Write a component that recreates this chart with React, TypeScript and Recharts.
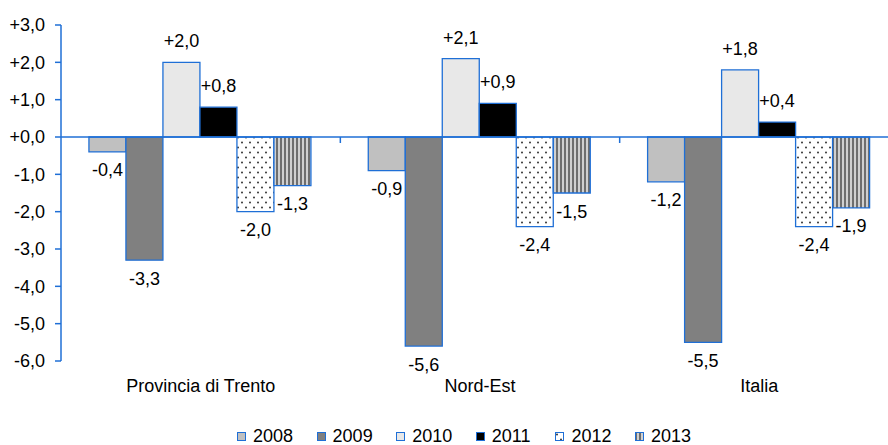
import { BarChart, Bar, XAxis, YAxis, ReferenceLine, ReferenceArea, LabelList, Legend } from "recharts";

const categories = ["Provincia di Trento", "Nord-Est", "Italia"];
const years = ["2008", "2009", "2010", "2011", "2012", "2013"];
const v2008 = [-0.4, -0.9, -1.2];
const v2009 = [-3.3, -5.6, -5.5];
const v2010 = [2.0, 2.1, 1.8];
const v2011 = [0.8, 0.9, 0.4];
const v2012 = [-2.0, -2.4, -2.4];
const v2013 = [-1.3, -1.5, -1.9];
const yTicks = [-6, -5, -4, -3, -2, -1, 0, 1, 2, 3];

const series = [v2008, v2009, v2010, v2011, v2012, v2013];
const fills = ["#c0c0c0", "#808080", "#e8e8e8", "#000000", "url(#dots2012)", "url(#stripes2013)"];

const BLUE = "#1f6fd6";
const FONT = "'Liberation Sans', Arial, sans-serif";
const FS = 18;

const data = categories.map((c, i) => {
  const row: Record<string, string | number> = { cat: c };
  years.forEach((y, j) => (row[y] = series[j][i]));
  return row;
});

const fmt = (v: number) => (v >= 0 ? "+" : "") + v.toFixed(1).replace(".", ",");

const BarLabel = (props: any) => {
  const { x, y, width, height, value } = props;
  const top = Math.min(y, y + height);
  const bottom = Math.max(y, y + height);
  const ty = value >= 0 ? top - 15 : bottom + 24.5;
  return (
    <text x={x + width / 2} y={ty} textAnchor="middle" fill="#000" fontSize={FS} fontFamily={FONT}>
      {fmt(value)}
    </text>
  );
};

const BoundaryTick = (props: any) => (
  <line x1={props.x} x2={props.x} y1={props.y} y2={props.y + props.height} stroke={BLUE} strokeWidth={1.5} />
);

const LegendBox = () => (
  <div style={{ display: "flex", alignItems: "center", height: 24, paddingTop: 6, boxSizing: "border-box", fontFamily: FONT, fontSize: FS, color: "#000" }}>
    {years.map((y, j) => (
      <div key={y} style={{ display: "flex", alignItems: "center", width: 79.6, flex: "none" }}>
        <svg width={9} height={9} style={{ display: "block", marginRight: 7 }}>
          <rect x={0.5} y={0.5} width={8} height={8} fill={fills[j]} stroke={BLUE} strokeWidth={1} />
        </svg>
        <span style={{ lineHeight: "17px" }}>{y}</span>
      </div>
    ))}
  </div>
);

export default function App() {
  return (
    <div style={{ position: "absolute", left: 0, top: 0, width: 888, height: 445, overflow: "hidden", background: "#fff" }}>
      <BarChart width={900} height={445} data={data} margin={{ top: 25, right: 1, left: 0, bottom: 0 }} barCategoryGap="10%" barGap={0}>
        <defs>
          <pattern id="dots2012" width={8} height={10} patternUnits="userSpaceOnUse">
            <rect width={8} height={10} fill="#ffffff" />
            <circle cx={2} cy={2.5} r={1} fill="#333" />
            <circle cx={6} cy={7.5} r={1} fill="#333" />
          </pattern>
          <pattern id="stripes2013" width={4} height={4} patternUnits="userSpaceOnUse">
            <rect width={4} height={4} fill="#d0d0d0" />
            <rect width={2} height={4} fill="#6e6e6e" />
          </pattern>
        </defs>
        <XAxis
          dataKey="cat"
          axisLine={false}
          tickLine={false}
          height={60}
          tickSize={6}
          tickMargin={12}
          tick={{ fill: "#000", fontSize: FS, fontFamily: FONT }}
        />
        <YAxis
          width={61}
          domain={[-6, 3]}
          ticks={yTicks}
          interval={0}
          allowDataOverflow
          tickFormatter={fmt}
          axisLine={{ stroke: BLUE, strokeWidth: 1.5 }}
          tickLine={{ stroke: BLUE, strokeWidth: 1.5 }}
          tickSize={6}
          tickMargin={10}
          tick={{ fill: "#000", fontSize: FS, fontFamily: FONT }}
        />
        {years.map((y, j) => (
          <Bar key={y} dataKey={y} fill={fills[j]} stroke={BLUE} strokeWidth={1.3} isAnimationActive={false}>
            <LabelList dataKey={y} content={BarLabel} />
          </Bar>
        ))}
        <ReferenceLine y={0} stroke={BLUE} strokeWidth={1.5} ifOverflow="visible" />
        <ReferenceArea x1={categories[1]} x2={categories[1]} y1={0} y2={-0.16} shape={BoundaryTick} />
        <ReferenceArea x1={categories[2]} x2={categories[2]} y1={0} y2={-0.16} shape={BoundaryTick} />
        <Legend verticalAlign="bottom" content={LegendBox} wrapperStyle={{ left: 237, bottom: 0, width: 520, height: 24 }} />
      </BarChart>
    </div>
  );
}
